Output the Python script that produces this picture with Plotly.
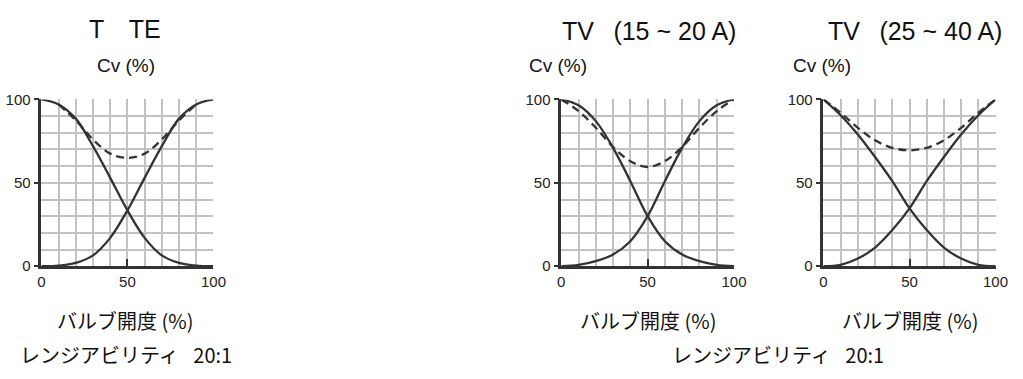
import plotly.graph_objects as go

# valve opening (%)
opening = [0, 10, 20, 30, 40, 50, 60, 70, 80, 90, 100]

# T TE
te_closing = [100, 97, 88.5, 72, 53, 33.5, 17, 6.5, 2, 0.3, 0]
te_opening = te_closing[::-1]
te_total_x = [10, 20, 30, 40, 50, 60, 70, 80, 90]
te_total = [97, 87.5, 76, 67.5, 65, 67.5, 76, 87.5, 97]

# TV (15 ~ 20 A)
tv15_closing = [100, 96.5, 87, 71, 51, 30, 15, 7, 3, 0.8, 0]
tv15_opening = tv15_closing[::-1]
tv15_total = [100, 93, 83, 71.5, 63, 59.5, 63, 71.5, 83, 93, 100]

# TV (25 ~ 40 A)
tv25_closing = [100, 90.5, 79, 65.5, 51, 34.7, 21.7, 11.2, 4.6, 0.8, 0]
tv25_opening = tv25_closing[::-1]
tv25_total = [100, 92, 83, 75.5, 71, 69.5, 71, 75.5, 83, 92, 100]

W, H = 1023, 379
INK = "#333333"
GRID = "#c2c2c2"

fig = go.Figure()

panels = [
    ("", opening, te_closing, te_opening, te_total_x, te_total, (38, 213)),
    ("2", opening, tv15_closing, tv15_opening, opening, tv15_total, (566.7, 742.3)),
    ("3", opening, tv25_closing, tv25_opening, opening, tv25_total, (833.3, 1008.3)),
]

for sfx, xs, closing, opening_v, tx, total, (x0, x1) in panels:
    solid = dict(color=INK, width=2.3, shape="spline", smoothing=1.0)
    fig.add_trace(go.Scatter(x=xs, y=closing, mode="lines", line=solid,
                             xaxis="x" + sfx, yaxis="y" + sfx, showlegend=False))
    fig.add_trace(go.Scatter(x=xs, y=opening_v, mode="lines", line=solid,
                             xaxis="x" + sfx, yaxis="y" + sfx, showlegend=False))
    fig.add_trace(go.Scatter(x=tx, y=total, mode="lines",
                             line=dict(color=INK, width=2.3, dash="8px,5px",
                                       shape="spline", smoothing=1.0),
                             xaxis="x" + sfx, yaxis="y" + sfx, showlegend=False))

    fig.update_layout({
        "xaxis" + sfx: dict(
            domain=[x0 / W, x1 / W], anchor="y" + sfx, range=[0, 100],
            tickvals=[0, 50, 100], ticks="inside", ticklen=7, tickwidth=2,
            tickcolor=INK, showline=True, linecolor=INK, linewidth=2.5,
            showgrid=True, gridcolor=GRID, gridwidth=2, zeroline=False,
            minor=dict(dtick=10, showgrid=True, gridcolor=GRID, gridwidth=2, ticks=""),
            tickfont=dict(family="Liberation Sans, Arial", size=15, color="#222"),
            fixedrange=True,
        ),
        "yaxis" + sfx: dict(
            domain=[1 - 269.3 / H, 1 - 94.7 / H], anchor="x" + sfx, range=[0, 100],
            tickvals=[0, 50, 100], ticks="outside", ticklen=5, tickwidth=2,
            tickcolor=INK, showline=True, linecolor=INK, linewidth=2.5,
            showgrid=True, gridcolor=GRID, gridwidth=2, zeroline=False,
            minor=dict(dtick=10, showgrid=True, gridcolor=GRID, gridwidth=2, ticks=""),
            tickfont=dict(family="Liberation Sans, Arial", size=15, color="#222"),
            fixedrange=True,
        ),
    })

latin = "Liberation Sans, Arial"
jp = "Noto Sans CJK JP"


def label(text, x, y, size, family, xanchor="center"):
    fig.add_annotation(text=text, x=x / W, y=1 - y / H, xref="paper", yref="paper",
                       xanchor=xanchor, yanchor="middle", showarrow=False,
                       font=dict(family=family, size=size, color="#111"))


label("T\u3000TE", 123.5, 21, 25, latin)
label("TV\u2002 (15 ~ 20 A)", 656, 23, 25, latin)
label("TV\u2002 (25 ~ 40 A)", 926, 23, 25, latin)

label("Cv (%)", 124, 59, 19, latin)
label("Cv (%)", 532, 59, 19, latin, xanchor="left")
label("Cv (%)", 800, 59, 19, latin, xanchor="left")

label("バルブ開度 (%)", 123.5, 326, 20, jp)
label("バルブ開度 (%)", 654.5, 326, 20, jp)
label("バルブ開度 (%)", 921, 326, 20, jp)

label("レンジアビリティ\u2002 20:1", 14, 362, 20, jp, xanchor="left")
label("レンジアビリティ\u2002 20:1", 677, 362, 20, jp, xanchor="left")

fig.update_layout(
    autosize=True,
    margin=dict(l=0, r=0, t=0, b=0),
    paper_bgcolor="white", plot_bgcolor="white",
)

# fill the whole window, pinned to its corner
pin = (
    "var gd=document.getElementById('{plot_id}');"
    "gd.style.position='fixed';gd.style.left='0px';gd.style.top='0px';"
    "document.body.style.margin='0';document.body.style.overflow='hidden';"
)
fig.write_html(
    "out.html",
    config={"displayModeBar": False},
    default_width="100vw",
    default_height="100vh",
    post_script=pin,
)
